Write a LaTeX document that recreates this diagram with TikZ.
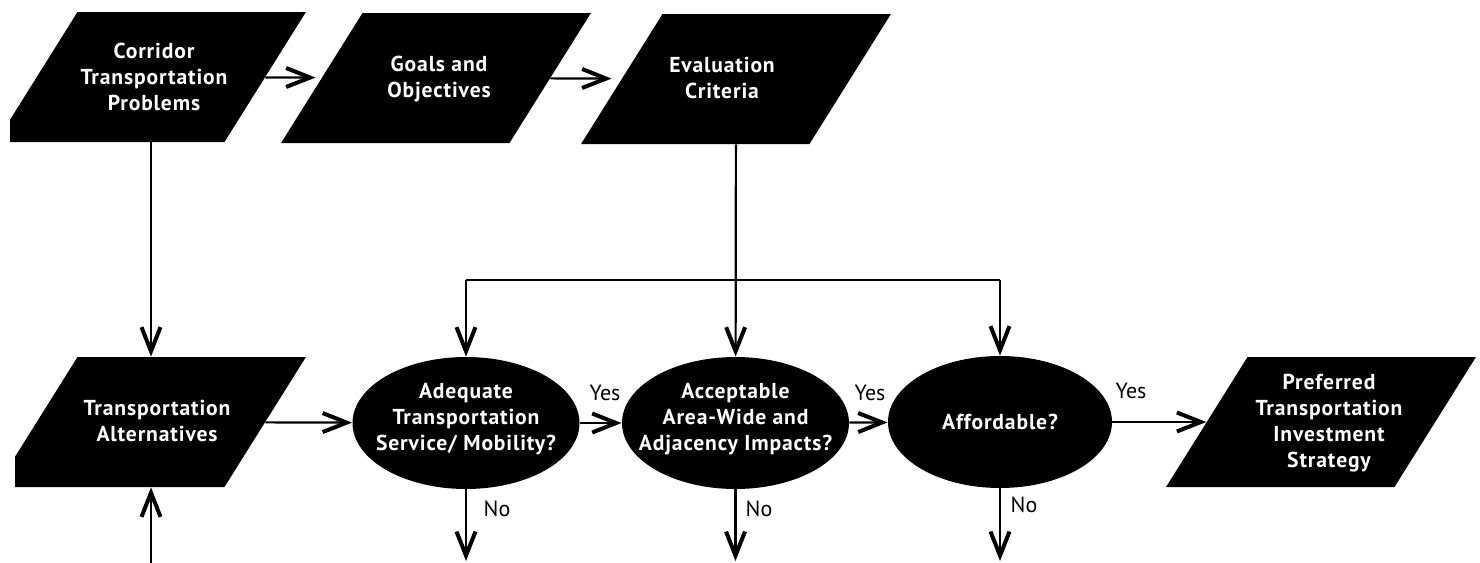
\documentclass[tikz,border=0pt]{standalone}
\usepackage{fontspec}
\setmainfont{PT Sans}
\newfontfamily\boxfont[LetterSpace=4]{PT Sans}
\usetikzlibrary{shapes.geometric,arrows.meta}
\tikzset{
  para/.style={trapezium, trapezium left angle=61, trapezium right angle=119,
    trapezium stretches=true, minimum width=155pt, minimum height=65pt,
    inner sep=2pt, fill=black},
  oval/.style={ellipse, fill=black, minimum width=113.5pt, minimum height=66pt, inner sep=0pt},
  boxtext/.style={text=white, align=center, inner sep=0pt,
    font=\boxfont\bfseries\fontsize{10.8pt}{13pt}\selectfont},
  lbl/.style={inner sep=0pt, font=\fontsize{11pt}{13pt}\selectfont},
  arr/.style={line width=1.1pt, -{Straight Barb[length=12pt,width=9.5pt,line width=2pt]}},
  conn/.style={line width=1.1pt}
}
\begin{document}
\begin{tikzpicture}[x=0.5pt,y=-0.5pt]
\useasboundingbox (0,0) rectangle (1480,563);
% parallelograms
\node[para] (cp) at (151,77) {};
\node[para] (gl) at (436,78) {};
\node[para] (ev) at (736,79) {};
\node[para] (ta) at (151,422) {};
\node[para] (pf) at (1321,422) {};
% ellipses
\node[oval] (e1) at (466,423) {};
\node[oval] (e2) at (735.5,423) {};
\node[oval, minimum width=112pt] (e3) at (1000,422) {};
% texts
\node[boxtext] (cpt) at (154,77) {Corridor\\Transportation\\Problems};
\node[boxtext] (glt) at (439,79) {Goals and\\Objectives};
\node[boxtext] (evt) at (722,78) {Evaluation\\Criteria};
\node[boxtext] (tat) at (157,421) {Transportation\\Alternatives};
\node[boxtext] (pft) at (1329,423) {Preferred\\Transportation\\Investment\\Strategy};
\node[boxtext] (e1t) at (466,419) {Adequate\\Transportation\\Service/ Mobility?};
\node[boxtext] (e2t) at (735.5,419) {Acceptable\\Area-Wide and\\Adjacency Impacts?};
\node[boxtext] (e3t) at (1000,422) {Affordable?};
% clipped left edge
\fill[white] (0,100) rectangle (10,150);
\fill[white] (0,440) rectangle (15,495);
% connectors
\coordinate (hy) at (0,280);
\coordinate (u0) at (151,563);
\coordinate (d1) at (466,561);
\coordinate (d2) at (735.5,561);
\coordinate (d3) at (1000,561);
\draw[arr] (cp) -- (ta);
\draw[arr, shorten >=3pt] (cp) -- (gl);
\draw[arr, shorten >=5pt] (gl) -- (ev);
\draw[arr] (ev) -- (e2);
\draw[conn] (e1.north |- hy) -- (e3.north |- hy);
\draw[arr] (e1.north |- hy) -- (e1.north);
\draw[arr] (e3.north |- hy) -- (e3.north);
\draw[arr] (ta) -- (e1);
\draw[arr] (e1) -- (e2);
\draw[arr] (e2) -- (e3);
\draw[arr] (e3) -- (pf);
\draw[arr] (e1) -- (d1);
\draw[arr] (e2) -- (d2);
\draw[arr] (e3) -- (d3);
\draw[arr] (u0) -- (ta);
% labels
\node[lbl] (y1) at (605,393) {Yes};
\node[lbl] (y2) at (870,393) {Yes};
\node[lbl] (y3) at (1131,391) {Yes};
\node[lbl] (n1) at (497,509) {No};
\node[lbl] (n2) at (759,509) {No};
\node[lbl] (n3) at (1024,505) {No};
\end{tikzpicture}
\end{document}
